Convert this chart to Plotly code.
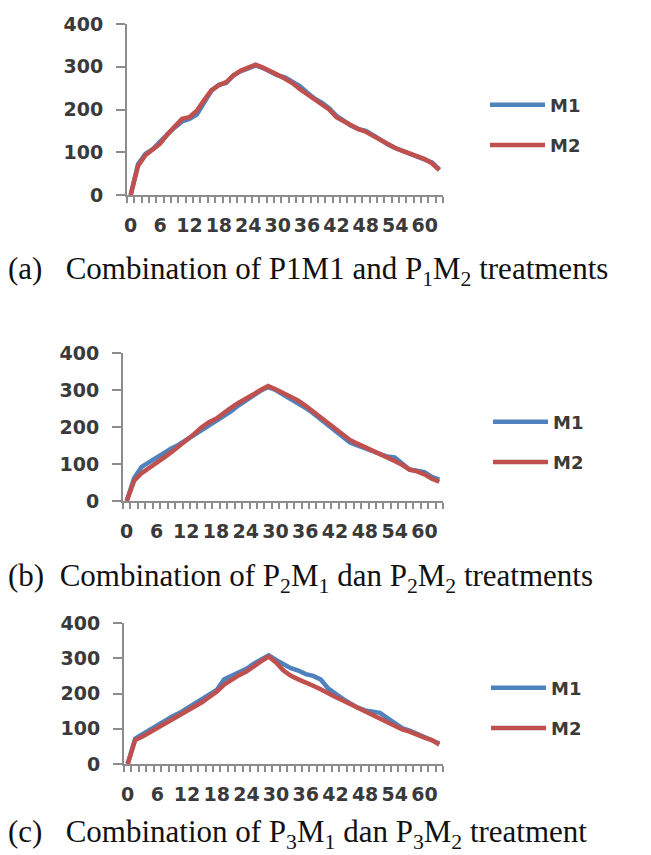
import plotly.graph_objects as go

# x categories (hours)
x_vals = [i * 1.5 for i in range(43)]
x_tick_vals = [0, 6, 12, 18, 24, 30, 36, 42, 48, 54, 60]
x_tick_text = ["0", "6", "12", "18", "24", "30", "36", "42", "48", "54", "60"]
y_tick_vals = [0, 100, 200, 300, 400]

a_m1 = [0, 72, 96, 107, 125, 142, 158, 172, 178, 188, 218, 244, 258, 262, 280, 290, 296, 303,
        297, 288, 280, 275, 266, 255, 240, 226, 216, 203, 185, 172, 162, 154, 150, 140, 128,
        118, 110, 103, 98, 90, 84, 76, 60]
a_m2 = [0, 68, 93, 105, 120, 142, 162, 178, 182, 197, 222, 245, 257, 264, 280, 291, 298, 305,
        298, 288, 281, 272, 262, 248, 236, 224, 214, 200, 182, 172, 162, 154, 148, 138, 128,
        118, 110, 103, 96, 90, 84, 74, 58]

b_m1 = [0, 62, 92, 105, 115, 130, 142, 152, 165, 178, 192, 205, 215, 228, 242, 258, 270, 285,
        298, 308, 300, 288, 278, 266, 252, 238, 222, 205, 190, 172, 158, 150, 142, 135, 125,
        120, 118, 102, 85, 82, 78, 65, 58]
b_m2 = [0, 55, 75, 88, 102, 117, 132, 147, 162, 180, 198, 212, 222, 238, 252, 265, 275, 288,
        300, 311, 302, 292, 282, 272, 258, 243, 228, 212, 196, 180, 165, 155, 146, 138, 128,
        118, 108, 98, 85, 80, 72, 60, 52]

c_m1 = [0, 72, 85, 98, 112, 123, 135, 145, 158, 170, 182, 198, 210, 240, 250, 262, 270, 285,
        295, 308, 295, 282, 272, 265, 255, 250, 240, 215, 198, 185, 172, 160, 152, 150, 145,
        130, 115, 102, 95, 85, 75, 68, 58]
c_m2 = [0, 68, 78, 90, 102, 115, 127, 140, 152, 165, 175, 190, 205, 225, 240, 252, 262, 278,
        292, 305, 288, 265, 250, 240, 232, 222, 212, 200, 190, 180, 170, 160, 150, 140, 128,
        118, 108, 98, 92, 82, 75, 68, 55]

series_names = ["M1", "M2"]
colors = ["#4F81BD", "#C0504D"]

captions = [
    "(a)   Combination of P1M1 and P<sub>1</sub>M<sub>2</sub> treatments",
    "(b)  Combination of P<sub>2</sub>M<sub>1</sub> dan P<sub>2</sub>M<sub>2</sub> treatments",
    "(c)   Combination of P<sub>3</sub>M<sub>1</sub> dan P<sub>3</sub>M<sub>2</sub> treatment",
]

# page has an 8px body margin: figure is offset by 8px
OFF = 8
W, H = 643, 847


def fx(px):
    return (px - OFF) / W


def fy(py):
    return 1 - (py - OFF) / H


# page-pixel boxes: (left, right, top(400), bottom(0))
boxes = [(127, 443, 24, 195), (123, 443, 353, 501), (124, 443, 623, 764)]
legend_pos = [(485, 125), (488, 442), (486, 708)]
caption_y = [271, 578, 834]

data_sets = [(a_m1, a_m2), (b_m1, b_m2), (c_m1, c_m2)]

fig = go.Figure()
axis_color = "#8C8C8C"
tick_font = dict(family="DejaVu Sans", size=19, color="#3A3A3A", weight="bold")

for i, (d, box) in enumerate(zip(data_sets, boxes)):
    n = "" if i == 0 else str(i + 1)
    leg = "legend" if i == 0 else f"legend{i + 1}"
    for j, vals in enumerate(d):
        fig.add_trace(go.Scatter(
            x=x_vals, y=vals, mode="lines", name=series_names[j],
            line=dict(color=colors[j], width=4.5),
            xaxis="x" + n, yaxis="y" + n, legend=leg,
            legendgroup=f"g{i}{j}",
        ))
    l, r, t, b = box
    fig.layout["xaxis" + n] = dict(
        domain=[fx(l), fx(r)], anchor="y" + n, range=[-0.75, 63.75],
        tickmode="array", tickvals=x_tick_vals, ticktext=x_tick_text,
        ticks="", showline=True, linecolor=axis_color, linewidth=2,
        showgrid=False, zeroline=False, tickfont=tick_font, ticklabelstandoff=12,
        automargin=False,
        minor=dict(ticks="outside", tick0=-0.75, dtick=1.5, ticklen=6,
                   tickcolor=axis_color, tickwidth=1.5, showgrid=False),
    )
    fig.layout["yaxis" + n] = dict(
        domain=[fy(b), fy(t)], anchor="x" + n, range=[0, 400],
        tickmode="array", tickvals=y_tick_vals,
        ticks="outside", ticklen=9, tickcolor=axis_color, tickwidth=1.5,
        showline=True, linecolor=axis_color, linewidth=2,
        showgrid=False, zeroline=False, tickfont=tick_font, ticklabelstandoff=9,
        automargin=False,
    )
    lx, ly = legend_pos[i]
    fig.layout[leg] = dict(
        x=fx(lx), y=fy(ly), xanchor="left", yanchor="middle",
        font=dict(family="DejaVu Sans", size=18, color="#3A3A3A", weight="bold"),
        bgcolor="rgba(0,0,0,0)", itemwidth=55, tracegroupgap=14,
        traceorder="grouped",
    )
    fig.add_annotation(
        text=captions[i], xref="paper", yref="paper",
        x=fx(6), y=fy(caption_y[i]), xanchor="left", yanchor="middle",
        showarrow=False, font=dict(family="Liberation Serif", size=31, color="#111111"),
    )

fig.update_layout(
    width=W, height=H, margin=dict(l=0, r=0, t=0, b=0, autoexpand=False),
    paper_bgcolor="white", plot_bgcolor="white", showlegend=True,
)

fig.write_html("out.html")
